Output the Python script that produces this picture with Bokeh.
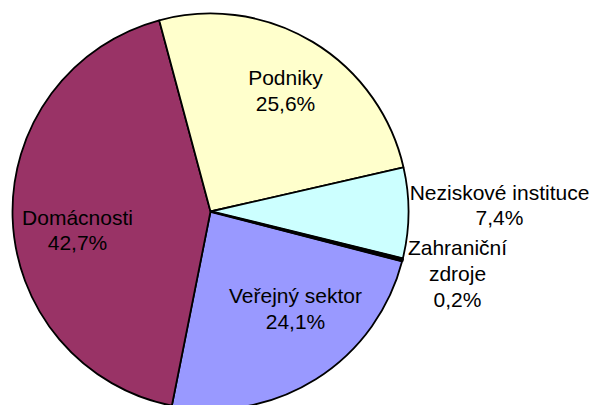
import math
from bokeh.plotting import figure
from bokeh.models import Range1d, ColumnDataSource
from bokeh.core.properties import value
from bokeh.embed import file_html
from bokeh.resources import INLINE

# ---- data ----
categories = ["Veřejný sektor", "Domácnosti", "Podniky", "Neziskové instituce", "Zahraniční zdroje"]
label_lines = ["Veřejný sektor", "Domácnosti", "Podniky", "Neziskové instituce", "Zahraniční\nzdroje"]
shares = [24.1, 42.7, 25.6, 7.4, 0.2]
colors = ["#9999FF", "#993366", "#FFFFCC", "#CCFFFF", "#660066"]

# ---- layout (pixels) ----
W, H = 593, 405
cx, cy = 210, 194          # pie centre in plot pixels (y up)
R = 198
first_angle_deg = 104.5    # clockwise from 12 o'clock
# label offsets from pie centre (x right, y up)
label_dx = [85, -133, 75, 289, 247]
label_dy = [-97, -18.5, 120.7, 6.5, -62]
outline_w = [1.8, 1.8, 1.8, 1.8, 2.6]

total = sum(shares)
starts, ends = [], []
acc = first_angle_deg
for v in shares:
    t1 = acc
    t2 = acc + v / total * 360.0
    # convert clockwise-from-top to bokeh anticlockwise-from-x
    starts.append(math.radians(90 - t2))
    ends.append(math.radians(90 - t1))
    acc = t2

texts = [f"{l}\n{v:.1f}".replace(".", ",") + "%" for l, v in zip(label_lines, shares)]

src = ColumnDataSource(dict(start=starts, end=ends, color=colors, cat=categories, lw=outline_w))
lsrc = ColumnDataSource(dict(x=[cx + d for d in label_dx], y=[cy + d for d in label_dy], text=texts))

p = figure(width=W, height=H, x_range=Range1d(0, W), y_range=Range1d(0, H),
           x_axis_type=None, y_axis_type=None, output_backend="svg",
           toolbar_location=None, min_border=0)
p.grid.visible = False
p.outline_line_color = None
p.background_fill_color = "white"
p.border_fill_color = "white"

p.wedge(x=cx, y=cy, radius=R, start_angle="start", end_angle="end", source=src,
        fill_color="color", line_color="black", line_width="lw")

p.text(x="x", y="y", text="text", source=lsrc, text_font=value("Liberation Sans"),
       text_font_size="21px", text_align="center", text_baseline="middle",
       text_line_height=1.12, text_color="black")

open("out.html", "w").write(file_html(p, INLINE))
